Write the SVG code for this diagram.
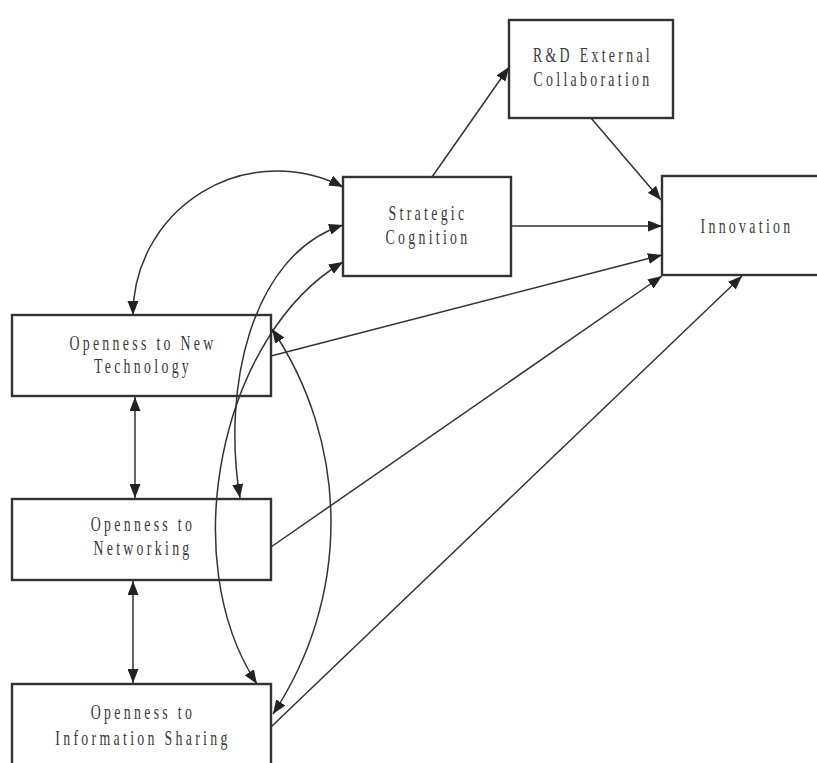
<svg xmlns="http://www.w3.org/2000/svg" width="817" height="763" viewBox="0 0 817 763">
<style>
.box{fill:#fff;stroke:#333;stroke-width:2.4}
.t{font-family:"Liberation Serif","Times New Roman",serif;font-size:21px;fill:#3a3a3a;text-anchor:middle;letter-spacing:5px}
.c{fill:none;stroke:#333;stroke-width:1.5}
</style>
<defs>
<marker id="ah" viewBox="0 0 14 11" refX="14" refY="5.5" markerWidth="14" markerHeight="11" markerUnits="userSpaceOnUse" orient="auto-start-reverse">
<path d="M0,0 L14,5.5 L0,11 z" fill="#222"/>
</marker>
</defs>
<rect width="817" height="763" fill="#fff"/>
<g id="n-strategic">
<rect class="box" x="343" y="177" width="168" height="99"/>
<text class="t" transform="translate(428,220) scale(0.66,1)">Strategic</text>
<text class="t" transform="translate(428,244) scale(0.66,1)">Cognition</text>
</g>
<g id="n-rd">
<rect class="box" x="509" y="20" width="164" height="98"/>
<text class="t" transform="translate(593,62) scale(0.66,1)">R&amp;D External</text>
<text class="t" transform="translate(593,86) scale(0.66,1)">Collaboration</text>
</g>
<g id="n-innovation">
<rect class="box" x="662" y="176" width="170" height="99"/>
<text class="t" transform="translate(747,233) scale(0.66,1)">Innovation</text>
</g>
<g id="n-tech">
<rect class="box" x="12" y="315" width="259" height="81"/>
<text class="t" transform="translate(143,350) scale(0.66,1)">Openness to New</text>
<text class="t" transform="translate(143,373) scale(0.66,1)">Technology</text>
</g>
<g id="n-net">
<rect class="box" x="12" y="499" width="259" height="81"/>
<text class="t" transform="translate(143,531) scale(0.66,1)">Openness to</text>
<text class="t" transform="translate(143,555) scale(0.66,1)">Networking</text>
</g>
<g id="n-info">
<rect class="box" x="12" y="684" width="259" height="95"/>
<text class="t" transform="translate(143,719) scale(0.66,1)">Openness to</text>
<text class="t" transform="translate(143,745) scale(0.66,1)">Information Sharing</text>
</g>
<g id="connectors">
<line class="c" x1="432" y1="177" x2="509" y2="67" marker-end="url(#ah)"/>
<line class="c" x1="591" y1="118" x2="661" y2="200" marker-end="url(#ah)"/>
<line class="c" x1="511" y1="226" x2="662" y2="226" marker-end="url(#ah)"/>
<line class="c" x1="271" y1="356" x2="662" y2="255" marker-end="url(#ah)"/>
<line class="c" x1="271" y1="547" x2="662" y2="276" marker-end="url(#ah)"/>
<line class="c" x1="271" y1="727" x2="742" y2="276" marker-end="url(#ah)"/>
<line class="c" x1="135" y1="397" x2="135" y2="498" marker-start="url(#ah)" marker-end="url(#ah)"/>
<line class="c" x1="133" y1="581" x2="133" y2="683" marker-start="url(#ah)" marker-end="url(#ah)"/>
<path class="c" d="M133,315 A144,144 0 0 1 343,187" marker-start="url(#ah)" marker-end="url(#ah)"/>
<path class="c" d="M343,225 C250,255 222,390 240,498" marker-start="url(#ah)" marker-end="url(#ah)"/>
<path class="c" d="M343,262 C220,335 175,560 257,684" marker-start="url(#ah)" marker-end="url(#ah)"/>
<path class="c" d="M272,329 A346,346 0 0 1 273,714" marker-start="url(#ah)" marker-end="url(#ah)"/>
</g>
</svg>
